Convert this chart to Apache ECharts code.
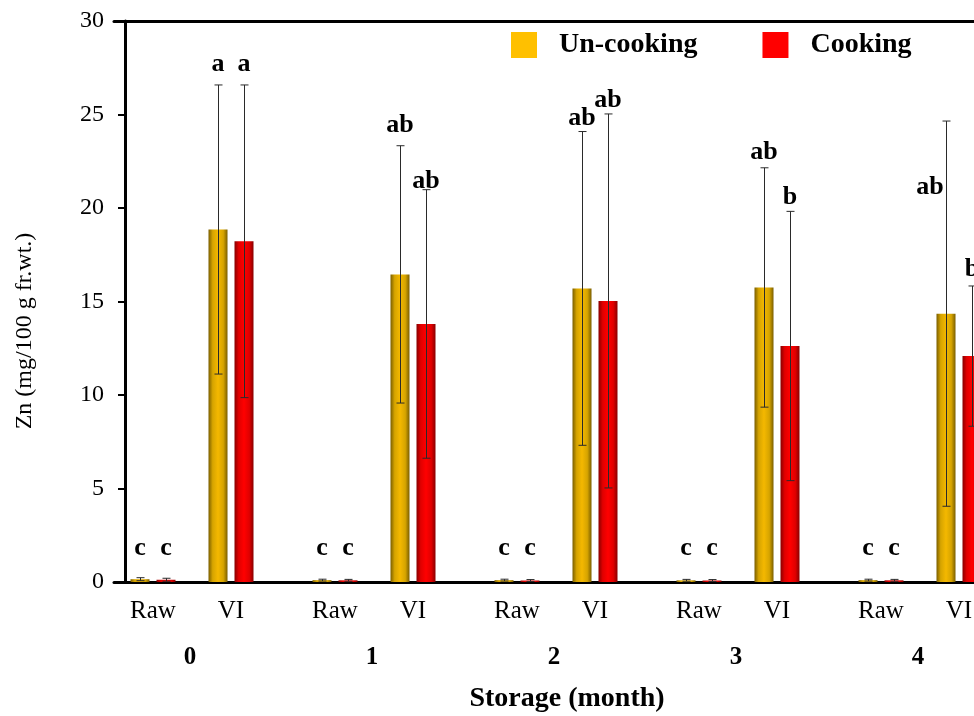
<!DOCTYPE html>
<html>
<head>
<meta charset="utf-8">
<script src="https://cdn.jsdelivr.net/npm/echarts@6/dist/echarts.min.js"></script>
<style>html,body{margin:0;padding:0;background:#fff;}#c{width:974px;height:716px;}</style>
</head>
<body>
<div id="c"></div>
<script>
// ---- data ----
const months = ['0', '1', '2', '3', '4'];
const treatments = ['Raw', 'VI'];
const yTicks = [0, 5, 10, 15, 20, 25, 30];

const rawUncook    = [0.15, 0.10, 0.10, 0.09, 0.10];
const rawUncookErr = [0.08, 0.05, 0.05, 0.05, 0.05];
const rawCook      = [0.12, 0.09, 0.08, 0.08, 0.09];
const rawCookErr   = [0.08, 0.05, 0.05, 0.05, 0.05];
const viUncook     = [18.85, 16.45, 15.70, 15.75, 14.35];
const viUncookErr  = [7.73, 6.88, 8.39, 6.40, 10.30];
const viCook       = [18.22, 13.80, 15.03, 12.62, 12.08];
const viCookErr    = [8.36, 7.18, 10.00, 7.20, 3.75];

const rawUncookLetters = ['c', 'c', 'c', 'c', 'c'];
const rawCookLetters   = ['c', 'c', 'c', 'c', 'c'];
const viUncookLetters  = ['a', 'ab', 'ab', 'ab', 'ab'];
const viCookLetters    = ['a', 'ab', 'ab', 'b', 'b'];
// height (data units) at which each significance letter sits
const rawLetterY       = [1.78, 1.78, 1.78, 1.78, 1.78];
const viUncookLetterY  = [27.7, 24.4, 24.8, 23.0, 21.1];
const viCookLetterY    = [27.7, 21.45, 25.75, 20.55, 16.7];

// ---- build category slots: leading blank, then per month Raw,_,_,VI,_,_,_ ----
const SLOTS = 7;
const cats = [''];
const monthCats = [''];
const rawIdx = [], viIdx = [];
months.forEach((m, i) => {
  const base = 1 + i * SLOTS;
  rawIdx.push(base); viIdx.push(base + 3);
  for (let k = 0; k < SLOTS; k++) {
    cats.push(k === 0 ? treatments[0] : (k === 3 ? treatments[1] : ''));
    monthCats.push(k === 1 ? m : '');
  }
});
function slotSeries(rawVals, viVals) {
  const arr = cats.map(() => '-');
  rawIdx.forEach((s, i) => arr[s] = rawVals[i]);
  viIdx.forEach((s, i) => arr[s] = viVals[i]);
  return arr;
}

const BAR_W = 19, BAR_GAP = 7;
const OFF = (BAR_W + BAR_GAP) / 2;
const FONT = 'Liberation Serif';

function errData(rawV, rawE, viV, viE) {
  const d = [];
  months.forEach((m, i) => {
    d.push([rawIdx[i], rawV[i] - rawE[i], rawV[i] + rawE[i]]);
    d.push([viIdx[i], viV[i] - viE[i], viV[i] + viE[i]]);
  });
  return d;
}
function errSeries(data, off) {
  return {
    type: 'custom', xAxisIndex: 0, yAxisIndex: 0, z: 5, silent: true,
    data: data,
    renderItem: function (params, api) {
      const x = api.value(0);
      const top = api.coord([x, api.value(2)]);
      const bot = api.coord([x, api.value(1)]);
      const cx = Math.round(top[0] + off) + 0.5;
      const st = { stroke: '#2a2a2a', lineWidth: 1 };
      const cap = 4;
      return {
        type: 'group', children: [
          { type: 'line', shape: { x1: cx, y1: top[1], x2: cx, y2: bot[1] }, style: st },
          { type: 'line', shape: { x1: cx - cap, y1: top[1], x2: cx + cap, y2: top[1] }, style: st },
          { type: 'line', shape: { x1: cx - cap, y1: bot[1], x2: cx + cap, y2: bot[1] }, style: st }
        ]
      };
    }
  };
}
function letterData(rawL, viL, viY) {
  const d = [];
  months.forEach((m, i) => {
    d.push({ value: [rawIdx[i], rawLetterY[i], i], name: rawL[i] });
    d.push({ value: [viIdx[i], viY[i], i], name: viL[i] });
  });
  return d;
}
function letterSeries(data, off, extraOffForLastVI) {
  return {
    type: 'custom', xAxisIndex: 0, yAxisIndex: 0, z: 6, silent: true,
    data: data,
    renderItem: function (params, api) {
      const p = api.coord([api.value(0), api.value(1)]);
      const isLastVI = params.dataIndex === data.length - 1;
      const dx = off + (isLastVI ? extraOffForLastVI : 0);
      return {
        type: 'text', x: p[0] + dx, y: p[1],
        style: {
          text: data[params.dataIndex].name, fill: '#000',
          fontFamily: FONT, fontWeight: 'bold', fontSize: 26,
          align: 'center', verticalAlign: 'middle'
        }
      };
    }
  };
}

const yellowGrad = new echarts.graphic.LinearGradient(0, 0, 1, 0, [
  { offset: 0, color: '#7a5e00' }, { offset: 0.22, color: '#d6a400' },
  { offset: 0.5, color: '#f4b800' }, { offset: 0.78, color: '#d6a400' },
  { offset: 1, color: '#7a5e00' }]);
const redGrad = new echarts.graphic.LinearGradient(0, 0, 1, 0, [
  { offset: 0, color: '#880000' }, { offset: 0.22, color: '#e00000' },
  { offset: 0.5, color: '#ff0000' }, { offset: 0.78, color: '#e00000' },
  { offset: 1, color: '#880000' }]);

const chart = echarts.init(document.getElementById('c'), null, { renderer: 'canvas' });
chart.setOption({
  animation: false,
  backgroundColor: '#fff',
  grid: { left: 114, top: 21, width: 936, height: 561, containLabel: false, outerBoundsMode: 'none' },
  legend: {
    left: 511, top: 31, padding: 0, itemWidth: 26, itemHeight: 26, itemGap: 65, icon: 'rect',
    data: [
      { name: 'Un-cooking', itemStyle: { color: '#FFC000' } },
      { name: 'Cooking', itemStyle: { color: '#FF0000' } }
    ],
    textStyle: { fontFamily: FONT, fontWeight: 'bold', fontSize: 28, color: '#000', padding: [0, 0, 0, 17] }
  },
  xAxis: [
    {
      type: 'category', data: cats, position: 'bottom',
      axisLine: { show: true, lineStyle: { color: '#000', width: 3 } },
      axisTick: { show: false },
      axisLabel: { interval: 0, margin: 17, fontFamily: FONT, fontSize: 25, color: '#000' },
      splitLine: { show: false }
    },
    {
      type: 'category', data: monthCats, position: 'bottom',
      axisLine: { show: false }, axisTick: { show: false },
      axisLabel: { interval: 0, margin: 63, fontFamily: FONT, fontWeight: 'bold', fontSize: 25, color: '#000', padding: [0, 0, 0, 22] },
      splitLine: { show: false }
    },
    {
      type: 'category', data: cats, position: 'top',
      axisLine: { show: true, lineStyle: { color: '#000', width: 3 } },
      axisTick: { show: false }, axisLabel: { show: false }, splitLine: { show: false }
    }
  ],
  yAxis: {
    type: 'value', min: yTicks[0], max: yTicks[yTicks.length - 1], interval: yTicks[1] - yTicks[0],
    offset: -11,
    axisLine: { show: true, lineStyle: { color: '#000', width: 3 } },
    axisTick: { show: true, inside: false, length: 7, lineStyle: { color: '#000', width: 2 } },
    axisLabel: { margin: 21, fontFamily: FONT, fontSize: 24, color: '#000' },
    splitLine: { show: false }
  },
  graphic: [
    {
      type: 'text', x: 25, y: 331, rotation: Math.PI / 2,
      style: { text: 'Zn (mg/100 g fr.wt.)', fontFamily: FONT, fontSize: 24, fill: '#000', align: 'center', verticalAlign: 'middle' }
    },
    {
      type: 'text', x: 567, y: 699,
      style: { text: 'Storage (month)', fontFamily: FONT, fontSize: 28, fontWeight: 'bold', fill: '#000', align: 'center', verticalAlign: 'middle' }
    }
  ],
  series: [
    {
      name: 'Un-cooking', type: 'bar', xAxisIndex: 0, yAxisIndex: 0,
      barWidth: BAR_W, barGap: (BAR_GAP / BAR_W * 100) + '%',
      data: slotSeries(rawUncook, viUncook),
      itemStyle: { color: yellowGrad }
    },
    {
      name: 'Cooking', type: 'bar', xAxisIndex: 0, yAxisIndex: 0,
      barWidth: BAR_W, barGap: (BAR_GAP / BAR_W * 100) + '%',
      data: slotSeries(rawCook, viCook),
      itemStyle: { color: redGrad }
    },
    errSeries(errData(rawUncook, rawUncookErr, viUncook, viUncookErr), -OFF),
    errSeries(errData(rawCook, rawCookErr, viCook, viCookErr), OFF),
    letterSeries(letterData(rawUncookLetters, viUncookLetters, viUncookLetterY), -OFF, -16),
    letterSeries(letterData(rawCookLetters, viCookLetters, viCookLetterY), OFF, 0)
  ]
});
</script>
</body>
</html>
